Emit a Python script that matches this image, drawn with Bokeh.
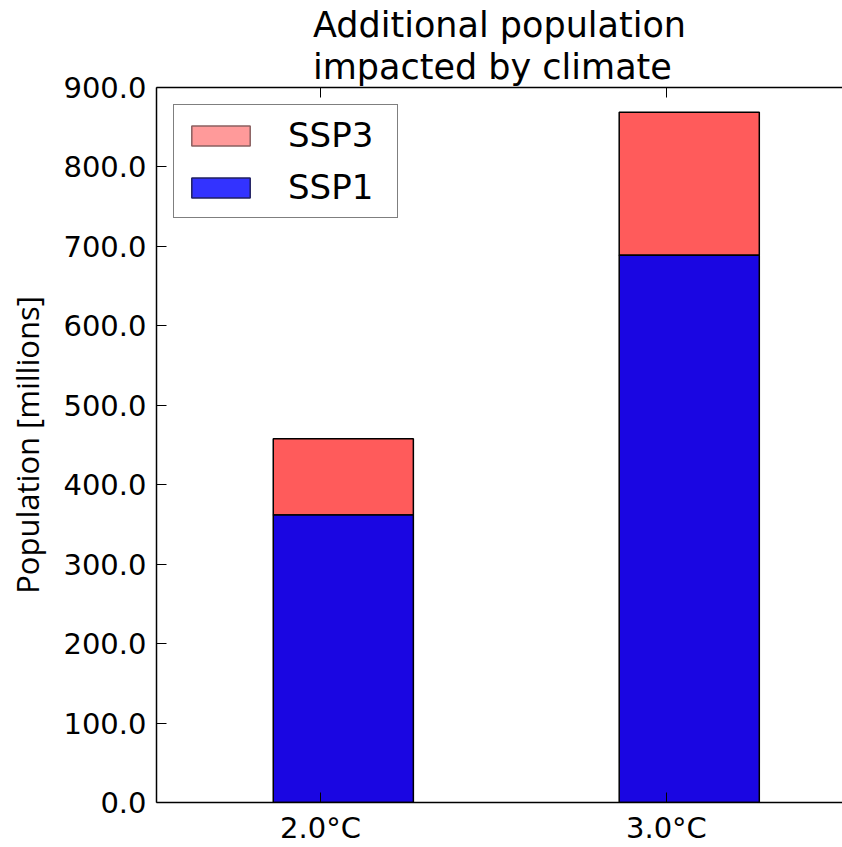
from bokeh.plotting import figure
from bokeh.models import Range1d, FixedTicker, LinearAxis, Legend, LegendItem, ColumnDataSource
from bokeh.embed import file_html
from bokeh.resources import INLINE

# ---- data ----
categories = ["2.0°C", "3.0°C"]
ssp1 = [362.0, 689.0]
ssp3_extra = [96.0, 180.0]
series_names = ["SSP3", "SSP1"]
y_ticks = [0, 100, 200, 300, 400, 500, 600, 700, 800, 900]
y_tick_labels = ["0.0", "100.0", "200.0", "300.0", "400.0", "500.0",
                 "600.0", "700.0", "800.0", "900.0"]

# ---- layout/style ----
x_pos = list(range(len(categories)))
bar_offset = 0.066
bar_width = 0.405
RED = "#ff5b5b"
BLUE = "#1a06e2"
FONT = "DejaVu Sans"

totals = [a + b for a, b in zip(ssp1, ssp3_extra)]
src = ColumnDataSource(dict(
    x=[xp + bar_offset for xp in x_pos],
    ssp1=ssp1,
    total=totals,
))

p = figure(width=842, height=847, output_backend="svg", toolbar_location=None,
           x_range=Range1d(-0.474, 1.509), y_range=Range1d(0, 900),
           min_border_left=156, min_border_right=0, min_border_top=87,
           min_border_bottom=44)

# legend-only renderers (zero width, drawn first so they stay hidden under bars)
r_leg3 = p.vbar(x="x", width=0, bottom=0, top=0, source=src,
                fill_color="#ff9a9a", line_color="#8a6060", line_width=1.5)
r_leg1 = p.vbar(x="x", width=0, bottom=0, top=0, source=src,
                fill_color="#3333ff", line_color="#202060", line_width=1.5)

p.vbar(x="x", width=bar_width, bottom="ssp1", top="total", source=src,
       fill_color=RED, line_color="black", line_width=1.5)
p.vbar(x="x", width=bar_width, bottom=0, top="ssp1", source=src,
       fill_color=BLUE, line_color="black", line_width=1.5)

legend = Legend(items=[LegendItem(label=series_names[0], renderers=[r_leg3]),
                       LegendItem(label=series_names[1], renderers=[r_leg1])],
                location="top_left", margin=17, padding=10,
                glyph_width=73, glyph_height=25, label_standoff=31,
                label_width=99, spacing=12,
                label_text_font=FONT, label_text_font_size="34px",
                label_text_color="black",
                border_line_color="black", border_line_width=1.5,
                background_fill_color="white", background_fill_alpha=1.0)
p.add_layout(legend)

# title
p.title.text = "Additional population\nimpacted by climate"
p.title.align = "center"
p.title.text_font = FONT
p.title.text_font_size = "35px"
p.title.text_font_style = "normal"
p.title.text_color = "black"
p.title.text_line_height = 1.05
p.title.standoff = 2

# grids
p.xgrid.visible = False
p.ygrid.visible = False

# outline: right spine lies outside the visible area in the reference
p.outline_line_color = None

# x axis
xa = p.xaxis[0]
xa.ticker = FixedTicker(ticks=x_pos)
xa.major_label_overrides = {xp: c for xp, c in zip(x_pos, categories)}
xa.major_tick_in = 10
xa.major_tick_out = 0
xa.minor_tick_line_color = None
xa.axis_line_color = "black"
xa.axis_line_width = 1.5
xa.major_tick_line_color = "black"
xa.major_label_text_font = FONT
xa.major_label_text_font_size = "29px"
xa.major_label_text_color = "black"
xa.major_label_standoff = 8

# y axis
ya = p.yaxis[0]
ya.ticker = FixedTicker(ticks=y_ticks)
ya.major_label_overrides = {t: l for t, l in zip(y_ticks, y_tick_labels)}
ya.major_tick_in = 10
ya.major_tick_out = 0
ya.minor_tick_line_color = None
ya.axis_line_color = "black"
ya.axis_line_width = 1.5
ya.major_tick_line_color = "black"
ya.major_label_text_font = FONT
ya.major_label_text_font_size = "29px"
ya.major_label_text_color = "black"
ya.major_label_standoff = 10
ya.axis_label = "Population [millions]"
ya.axis_label_text_font = "Open Sans"
ya.axis_label_text_font_size = "31px"
ya.axis_label_text_font_style = "normal"
ya.axis_label_text_color = "black"
ya.axis_label_standoff = 12

# top spine with inward ticks
top_axis = LinearAxis(ticker=FixedTicker(ticks=x_pos),
                      major_label_text_font_size="1px",
                      major_label_text_color=None,
                      major_label_standoff=0,
                      major_tick_in=10, major_tick_out=0,
                      minor_tick_line_color=None,
                      axis_line_color="black", axis_line_width=1.5)
p.add_layout(top_axis, "above")

open("out.html", "w").write(file_html(p, INLINE))
